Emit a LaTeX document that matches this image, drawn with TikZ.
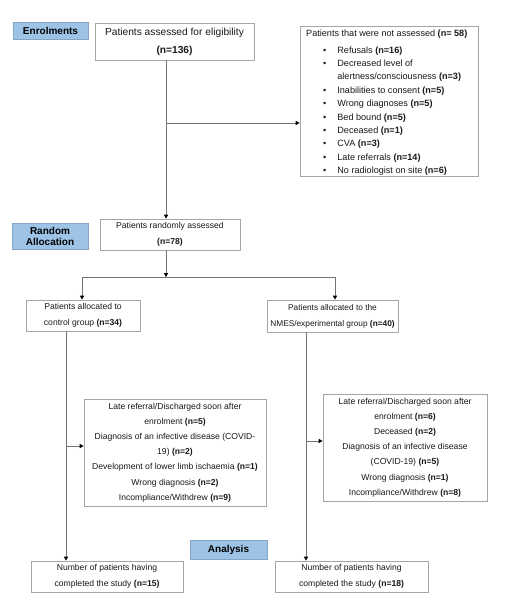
\documentclass[tikz,border=0pt]{standalone}
\usepackage{fontspec}
\setmainfont{Liberation Sans}
\usetikzlibrary{arrows.meta,shadows,calc}
\definecolor{lblue}{RGB}{157,195,230}
\definecolor{bord}{RGB}{165,165,165}
\definecolor{conn}{RGB}{115,115,115}
\begin{document}
\begin{tikzpicture}[x=1pt,y=-1pt,
  box/.style={draw=bord, line width=0.8pt, fill=white, inner sep=0pt, align=center, text=black!90},
  small/.style={font=\fontsize{8.6}{16}\selectfont},
  side/.style={font=\fontsize{8.6}{15.2}\selectfont},
  lbl/.style={fill=lblue, draw=lblue!85!black, line width=0.4pt, inner sep=0pt, align=center,
    font=\bfseries\fontsize{10}{11}\selectfont,
    drop shadow={shadow xshift=0.8pt,shadow yshift=-1.3pt,fill=gray!65,opacity=1}},
  conn/.style={draw=conn, line width=0.8pt},
  arr/.style={conn, -{Triangle[length=4pt,width=4.2pt,color=black]}}]
\useasboundingbox (0,0) rectangle (513,604);

% labels
\node[lbl, minimum width=75pt, minimum height=17pt] (enr) at (50.5,30.5) {Enrolments};
\node[lbl, minimum width=76pt, minimum height=26pt] (ralloc) at (50,236) {Random\\Allocation};
\node[lbl, minimum width=77pt, minimum height=19pt] (anal) at (228.5,549.5) {Analysis};

% boxes
\node[box, minimum width=159pt, minimum height=37pt, font=\fontsize{10.2}{18}\selectfont] (elig) at (174.5,41.5)
  {Patients assessed for eligibility\\\textbf{(n=136)}};
\node[box, minimum width=178pt, minimum height=150pt] (notass) at (389,101) {};
\node[anchor=north west, inner sep=0pt, text=black!90, font=\fontsize{9.1}{13.4}\selectfont] (notlist) at (306,26.6)
  {\begin{tabular}{@{\hspace{17pt}}l@{\hspace{11pt}}l@{}}
   \multicolumn{2}{@{}l@{}}{Patients that were not assessed \textbf{(n= 58)}}\\[3.5pt]
   \textbullet & Refusals \textbf{(n=16)}\\
   \textbullet & Decreased level of\\
               & alertness/consciousness \textbf{(n=3)}\\
   \textbullet & Inabilities to consent \textbf{(n=5)}\\
   \textbullet & Wrong diagnoses \textbf{(n=5)}\\
   \textbullet & Bed bound \textbf{(n=5)}\\
   \textbullet & Deceased \textbf{(n=1)}\\
   \textbullet & CVA \textbf{(n=3)}\\
   \textbullet & Late referrals \textbf{(n=14)}\\
   \textbullet & No radiologist on site \textbf{(n=6)}
   \end{tabular}};

\node[box, small, minimum width=140pt, minimum height=31pt] (rand) at (170,234.5)
  {Patients randomly assessed\\\textbf{(n=78)}};
\node[box, small, minimum width=114pt, minimum height=31pt] (ctrl) at (83,315.5)
  {Patients allocated to\\control group \textbf{(n=34)}};
\node[box, minimum width=131pt, minimum height=32pt, font=\fontsize{8.3}{16}\selectfont] (exper) at (332.5,316)
  {Patients allocated to the\\NMES/experimental group \textbf{(n=40)}};

\node[box, side, minimum width=182pt, minimum height=107pt] (side1) at (175,452.5)
  {Late referral/Discharged soon after\\enrolment \textbf{(n=5)}\\Diagnosis of an infective disease (COVID-\\19) \textbf{(n=2)}\\Development of lower limb ischaemia \textbf{(n=1)}\\Wrong diagnosis \textbf{(n=2)}\\Incompliance/Withdrew \textbf{(n=9)}};
\node[box, side, minimum width=164pt, minimum height=107pt] (side2) at (405,447.5)
  {Late referral/Discharged soon after\\enrolment \textbf{(n=6)}\\Deceased \textbf{(n=2)}\\Diagnosis of an infective disease\\(COVID-19) \textbf{(n=5)}\\Wrong diagnosis \textbf{(n=1)}\\Incompliance/Withdrew \textbf{(n=8)}};

\node[box, small, minimum width=152pt, minimum height=31pt] (fin1) at (107,576.5)
  {Number of patients having\\completed the study \textbf{(n=15)}};
\node[box, small, minimum width=153pt, minimum height=31pt] (fin2) at (351.5,576.5)
  {Number of patients having\\completed the study \textbf{(n=18)}};

% connectors
\coordinate (sp) at (166,0);
\coordinate (br1) at (166,123);
\coordinate (split) at (166,277);
\coordinate (lft) at (82,277);
\coordinate (rgt) at (335,277);
\coordinate (cl) at (66,446);
\coordinate (el) at (306,441);

\draw[arr] (elig.south -| sp) -- (rand.north -| sp);
\draw[arr] (br1) -- (br1 -| notass.west);
\draw[arr] (rand.south -| sp) -- (split);
\draw[conn] (lft) -- (rgt);
\draw[arr] (lft) -- (lft |- ctrl.north);
\draw[arr] (rgt) -- (rgt |- exper.north);
\draw[arr] (ctrl.south -| cl) -- (fin1.north -| cl);
\draw[arr] (cl) -- (cl -| side1.west);
\draw[arr] (exper.south -| el) -- (fin2.north -| el);
\draw[arr] (el) -- (el -| side2.west);
\end{tikzpicture}
\end{document}
